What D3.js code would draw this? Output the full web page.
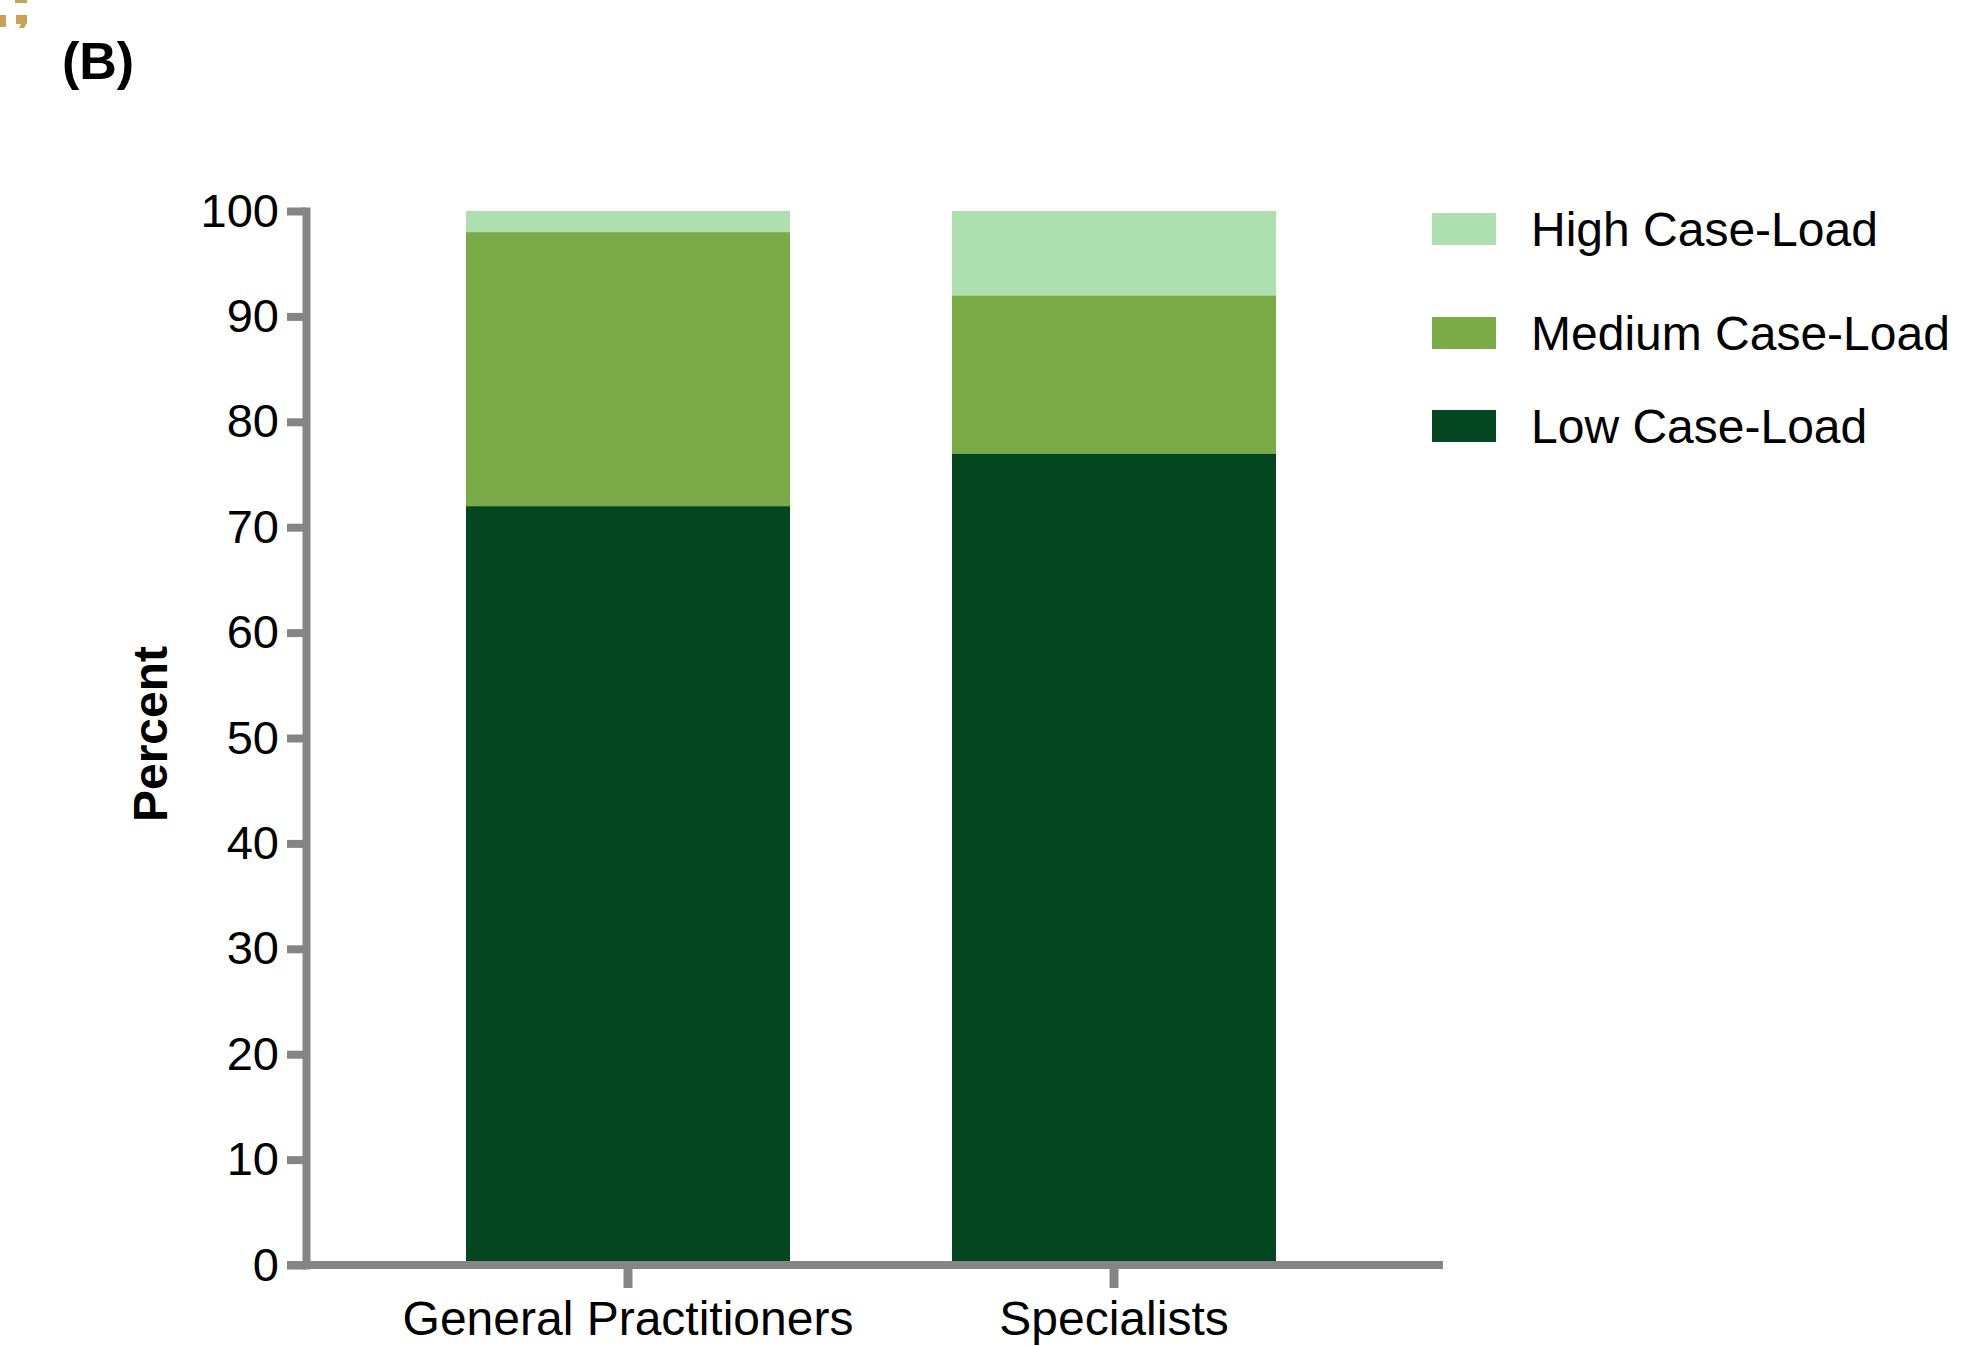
<!DOCTYPE html>
<html>
<head>
<meta charset="utf-8">
<script src="https://cdn.jsdelivr.net/npm/d3@7"></script>
<style>
  html, body { margin: 0; padding: 0; background: #fff; }
  svg { display: block; font-family: "Liberation Sans", Arial, Helvetica, sans-serif; }
</style>
</head>
<body>
<svg id="chart" width="1964" height="1346"></svg>
<script>
// Case-load distribution by physician group (percent, stacked)
const categories = ["General Practitioners", "Specialists"];
const seriesNames = ["Low Case-Load", "Medium Case-Load", "High Case-Load"];
const lowLoad = [72, 77];
const mediumLoad = [26, 15];
const highLoad = [2, 8];
const yTicks = [0, 10, 20, 30, 40, 50, 60, 70, 80, 90, 100];
const legendOrder = ["High Case-Load", "Medium Case-Load", "Low Case-Load"];

const colors = {
  "Low Case-Load": "#03461f",
  "Medium Case-Load": "#7aab47",
  "High Case-Load": "#aedfae"
};
const axisColor = "#858585";

const svg = d3.select("#chart");
svg.append("rect").attr("width", 1964).attr("height", 1346).attr("fill", "#fff");

// Plot geometry
const axisX = 306, yBottom = 1265, yTop = 211;
const xAxisStart = 287, xAxisEnd = 1443;

const y = d3.scaleLinear().domain([0, 100]).range([yBottom, yTop]);
const x = d3.scaleBand().domain(categories).range([466, 1276])
  .paddingInner(1 / 3).paddingOuter(0);

// Stacked data
const rows = categories.map((c, i) => ({
  category: c,
  "Low Case-Load": lowLoad[i],
  "Medium Case-Load": mediumLoad[i],
  "High Case-Load": highLoad[i]
}));
const stacked = d3.stack().keys(seriesNames)(rows);

svg.append("g").selectAll("g")
  .data(stacked)
  .join("g")
  .attr("fill", d => colors[d.key])
  .selectAll("rect")
  .data(d => d)
  .join("rect")
  .attr("x", d => x(d.data.category))
  .attr("width", x.bandwidth())
  .attr("y", d => y(d[1]))
  .attr("height", d => y(d[0]) - y(d[1]));

// Y axis
const yAxis = svg.append("g")
  .attr("transform", `translate(${axisX},0)`)
  .call(d3.axisLeft(y).tickValues(yTicks).tickSize(19).tickSizeOuter(0).tickPadding(8));
yAxis.select(".domain")
  .attr("stroke", axisColor).attr("stroke-width", 8).attr("stroke-linecap", "square");
yAxis.selectAll(".tick line").attr("stroke", axisColor).attr("stroke-width", 8);
yAxis.selectAll(".tick text")
  .attr("fill", "#000").attr("font-size", 47)
  .attr("font-family", "Liberation Sans, Arial, sans-serif");

// X axis
svg.append("line")
  .attr("x1", xAxisStart).attr("x2", xAxisEnd)
  .attr("y1", yBottom).attr("y2", yBottom)
  .attr("stroke", axisColor).attr("stroke-width", 8);
const xAxis = svg.append("g")
  .attr("transform", `translate(0,${yBottom})`)
  .call(d3.axisBottom(x).tickSize(23).tickSizeOuter(0).tickPadding(13));
xAxis.select(".domain").remove();
xAxis.selectAll(".tick line").attr("stroke", axisColor).attr("stroke-width", 9);
xAxis.selectAll(".tick text")
  .attr("fill", "#000").attr("font-size", 48)
  .attr("font-family", "Liberation Sans, Arial, sans-serif");

// Y axis title
svg.append("text")
  .attr("transform", "translate(167,734) rotate(-90)")
  .attr("text-anchor", "middle")
  .attr("font-size", 48)
  .attr("font-weight", "bold")
  .attr("fill", "#000")
  .text("Percent");

// Panel label
svg.append("text")
  .attr("x", 62).attr("y", 79)
  .attr("font-size", 52)
  .attr("font-weight", "bold")
  .attr("fill", "#000")
  .text("(B)");

// Small gold ornament at the top-left corner
const gold = svg.append("g").attr("fill", "#c9a258");
gold.append("rect").attr("x", 15).attr("y", 0).attr("width", 12).attr("height", 3);
gold.append("rect").attr("x", 0).attr("y", 15).attr("width", 6).attr("height", 12);
gold.append("path").attr("d", "M16,15 L27,15 L27,23 L24,28 L19,28 L21,24 L16,24 Z");

// Legend
const legendY = [213, 317, 410];
const legend = svg.append("g");
legendOrder.forEach((name, i) => {
  legend.append("rect")
    .attr("x", 1432).attr("y", legendY[i])
    .attr("width", 64).attr("height", 32)
    .attr("fill", colors[name]);
  legend.append("text")
    .attr("x", 1531).attr("y", legendY[i] + 16)
    .attr("dy", "0.36em")
    .attr("font-size", 48)
    .attr("fill", "#000")
    .text(name);
});
</script>
</body>
</html>
